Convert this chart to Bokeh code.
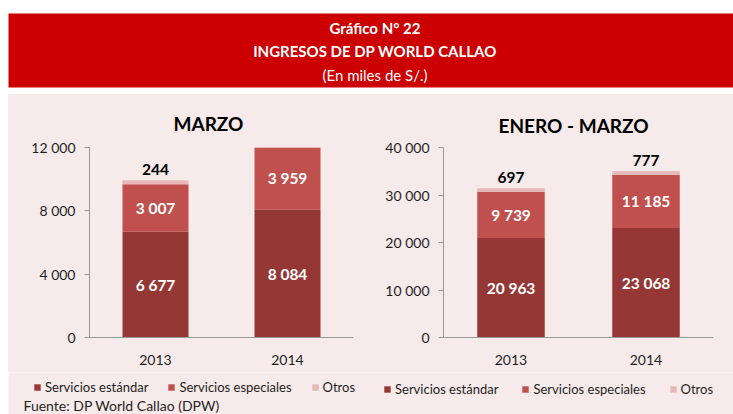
from bokeh.plotting import figure
from bokeh.models import (Range1d, FactorRange, Legend, LegendItem, Label, Title,
                          FixedTicker, ColumnDataSource, Spacer)
from bokeh.layouts import column, row
from bokeh.embed import file_html
from bokeh.resources import INLINE
from bokeh.core.properties import value

# ---------------- data ----------------
years = ["2013", "2014"]
series_names = ["Servicios estándar", "Servicios especiales", "Otros"]

marzo_estandar = [6677, 8084]
marzo_especiales = [3007, 3959]
marzo_otros = [244, 260]          # 2014 value not legible in reference (clipped at axis top)

enero_marzo_estandar = [20963, 23068]
enero_marzo_especiales = [9739, 11185]
enero_marzo_otros = [697, 777]

marzo_ticks = [0, 4000, 8000, 12000]
marzo_tick_labels = ["0", "4 000", "8 000", "12 000"]
em_ticks = [0, 10000, 20000, 30000, 40000]
em_tick_labels = ["0", "10 000", "20 000", "30 000", "40 000"]

header_lines = ["Gráfico N° 22", "INGRESOS DE DP WORLD CALLAO", "(En miles de S/.)"]
source_text = "Fuente: DP World Callao (DPW)"

# ---------------- style ----------------
FONT = "Lato"
RED = "#CC0000"
PINK = "#F6EAEA"
COLORS = ["#953735", "#C0504D", "#E6B9B8"]
TXT = "#1f1f1f"
AXIS = "#999999"


def fmt(v):
    return f"{v:,}".replace(",", " ")


# ---------------- header ----------------
header = figure(width=733, height=94, x_range=Range1d(0, 1), y_range=Range1d(0, 74),
                x_axis_type=None, y_axis_type=None, toolbar_location=None,
                output_backend="svg", min_border_top=13, min_border_bottom=7,
                min_border_left=8, min_border_right=0)
header.outline_line_color = None
header.background_fill_color = RED
header.border_fill_color = "white"
header.xgrid.visible = False
header.ygrid.visible = False
for txt, yy, bold in zip(header_lines, [60, 37, 13], [True, True, False]):
    header.add_layout(Label(x=0.5055, y=yy, text=txt, text_align="center",
                            text_baseline="middle", text_color="white",
                            text_font=FONT, text_font_size="15px",
                            text_font_style="bold" if bold else "normal"))


def make_chart(title, est, esp, otr, ticks, tick_labels, ymax, width, height,
               ml, mr, mt, mb, title_offset, title_standoff, xlabel_standoff):
    p = figure(width=width, height=height, x_range=FactorRange(*years),
               y_range=Range1d(0, ymax), toolbar_location=None, output_backend="svg",
               min_border_left=ml, min_border_right=mr, min_border_top=mt,
               min_border_bottom=mb)
    p.title = Title(text=title, align="left", offset=title_offset,
                    standoff=title_standoff, text_font=FONT, text_font_size="19px",
                    text_font_style="bold", text_color="black")
    p.background_fill_color = PINK
    p.border_fill_color = PINK
    p.outline_line_color = None
    p.xgrid.visible = False
    p.ygrid.visible = False

    src = ColumnDataSource(dict(x=years, est=est, esp=esp, otr=otr))
    p.vbar_stack(["est", "esp", "otr"], x="x", width=0.5, source=src,
                 color=COLORS, line_color=None)

    # value labels inside segments
    lx, ly, lt = [], [], []
    for i, yr in enumerate(years):
        lx += [yr, yr]
        ly += [est[i] / 2, est[i] + esp[i] / 2]
        lt += [fmt(est[i]), fmt(esp[i])]
    p.text(x=lx, y=ly, text=lt, text_color="white", text_align="center",
           text_baseline="middle", text_font=value(FONT), text_font_size="15.5px",
           text_font_style="bold")
    # "Otros" labels above bars (only if visible within axis range)
    ox, oy, ot = [], [], []
    for i, yr in enumerate(years):
        top = est[i] + esp[i] + otr[i]
        if top < ymax:
            ox.append(yr)
            oy.append(top)
            ot.append(fmt(otr[i]))
    p.text(x=ox, y=oy, text=ot, y_offset=-11, text_color="black", text_align="center",
           text_baseline="middle", text_font=value(FONT), text_font_size="15.5px",
           text_font_style="bold")

    # axes
    p.yaxis.ticker = FixedTicker(ticks=ticks)
    p.yaxis.major_label_overrides = dict(zip(ticks, tick_labels))
    p.yaxis.minor_tick_line_color = None
    p.yaxis.major_tick_in = 0
    p.yaxis.major_tick_out = 5
    p.yaxis.major_label_standoff = 9
    p.xaxis.major_tick_in = 0
    p.xaxis.major_tick_out = 0
    p.xaxis.major_label_standoff = xlabel_standoff
    for ax in (p.xaxis, p.yaxis):
        ax.axis_line_color = AXIS
        ax.major_tick_line_color = AXIS
        ax.major_label_text_font = FONT
        ax.major_label_text_font_size = "14px"
        ax.major_label_text_color = TXT
    return p


left = make_chart("MARZO", marzo_estandar, marzo_especiales, marzo_otros,
                  marzo_ticks, marzo_tick_labels, 12000, 362, 278,
                  81, 17, 53, 35, 84, 26, 17)
right = make_chart("ENERO - MARZO", enero_marzo_estandar, enero_marzo_especiales,
                   enero_marzo_otros, em_ticks, em_tick_labels, 40000, 363, 278,
                   73, 20, 48, 33, 55, 21, 17)

# ---------------- legends + source band ----------------
bottom = figure(width=733, height=42, x_range=Range1d(0, 725), y_range=Range1d(0, 42),
                x_axis_type=None, y_axis_type=None, toolbar_location=None,
                output_backend="svg", min_border_top=0, min_border_bottom=0,
                min_border_left=8, min_border_right=0)
bottom.outline_line_color = None
bottom.background_fill_color = PINK
bottom.border_fill_color = "white"
bottom.xgrid.visible = False
bottom.ygrid.visible = False
# zero-size key glyphs, used only to draw the legend swatches
key_renderers = [bottom.vbar(x=[0], top=[0], bottom=[0], width=0, color=c, line_color=None)
                 for c in COLORS]

for loc, sp in [((25, 19), 19), ((375, 17), 23)]:
    bottom.add_layout(Legend(items=[LegendItem(label=n, renderers=[r])
                                    for n, r in zip(series_names, key_renderers)],
                             orientation="horizontal", location=loc, margin=0, padding=0,
                             spacing=sp, glyph_width=8, glyph_height=8, label_standoff=4,
                             label_text_font=FONT, label_text_font_size="13px",
                             label_text_color=TXT, background_fill_alpha=0,
                             border_line_alpha=0))
bottom.add_layout(Label(x=15, y=9, text=source_text, text_align="left",
                        text_baseline="middle", text_font=FONT, text_font_size="14px",
                        text_color=TXT))

pad = Spacer(width=8, height=278, styles={"background-color": "white"})
charts = row(pad, left, right, spacing=0, styles={"background-color": PINK})
layout = column(header, charts, bottom, spacing=0)

open("out.html", "w").write(file_html(layout, INLINE))
